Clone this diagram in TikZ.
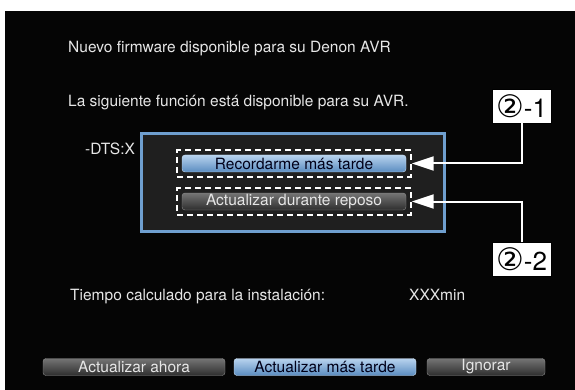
\documentclass[tikz,border=0pt]{standalone}
\usepackage{fontspec}
\setmainfont{TeX Gyre Heros}
\newfontfamily\symfont{DejaVu Sans}
\usepackage{tikz}
\usetikzlibrary{positioning, arrows.meta, fit}
\definecolor{screenBg}{HTML}{050505}
\definecolor{msgGray}{HTML}{E6E6E6}
\definecolor{panelGray}{HTML}{1F1F1F}
\definecolor{panelBlue}{HTML}{6F9FCF}
\definecolor{btnBlueTop}{HTML}{B8D3EE}
\definecolor{btnBlueBot}{HTML}{5A8CC0}
\definecolor{btnGreyTop}{HTML}{747474}
\definecolor{btnGreyBot}{HTML}{2E2E2E}
\newcommand{\circtwo}{{\symfont\fontsize{31}{31}\selectfont ②}}
\tikzset{
    msg/.style={anchor=base west, inner sep=0pt, text=msgGray, font=\fontsize{15.5}{18}\selectfont},
    panel/.style={rectangle, draw=panelBlue, line width=3pt, fill=panelGray, minimum width=303pt, minimum height=98pt},
    btnBlue/.style={rectangle, rounded corners=3pt, draw=btnBlueTop!70!white, top color=btnBlueTop, bottom color=btnBlueBot, text=black!90!blue, inner sep=0pt, minimum height=17pt, font=\fontsize{15.5}{18}\selectfont},
    btnGrey/.style={rectangle, rounded corners=3pt, draw=black!45, top color=btnGreyTop, bottom color=btnGreyBot, text=msgGray, inner sep=0pt, minimum height=17pt, font=\fontsize{15.5}{18}\selectfont},
    focus/.style={rectangle, draw=white, line width=2pt, dash pattern=on 6pt off 4pt, inner sep=4.5pt},
    callout/.style={rectangle, draw=black, fill=white, text=black, minimum width=59pt, minimum height=34pt, inner sep=0pt, font=\fontsize{26}{28}\selectfont},
    pointer/.style={-{Triangle[length=22pt, width=14pt]}, draw=white, line width=2pt}
}
\begin{document}
\begin{tikzpicture}[x=1pt, y=-1pt]
        \useasboundingbox (0,0) rectangle (575,390);
        \fill[screenBg] (5,11) rectangle (575,390);

        % Messages
        \node[msg] (Title) at (68,52.5) {Nuevo firmware disponible para su Denon AVR};
        \node[msg] (Feature) at (68,107) {La siguiente función está disponible para su AVR.};
        \node[msg] (Dts) at (85,155) {-DTS:X};

        % Panel with options
        \node[panel] (Panel) at (293,182.5) {};
        \node[btnBlue, minimum width=224pt] (BtnRemind) at (294,163.5) {Recordarme más tarde};
        \node[btnGrey, minimum width=224pt] (BtnStandby) at (294,201.5) {Actualizar durante reposo};
        \node[focus, fit=(BtnRemind)] (FocusA) {};
        \node[focus, fit=(BtnStandby)] (FocusB) {};

        % Install time
        \node[msg] (TimeLbl) at (70,300) {Tiempo calculado para la instalación:};
        \node[msg] (TimeVal) at (409,300) {XXXmin};

        % Bottom buttons
        \node[btnGrey, minimum width=182pt] (BtnNow) at (134,367) {Actualizar ahora};
        \node[btnBlue, minimum width=182pt] (BtnLater) at (325,367) {Actualizar más tarde};
        \node[btnGrey, minimum width=118pt] (BtnIgnore) at (486,367) {Ignorar};

        % Callouts
        \node[callout] (CalloutA) at (521.5,106) {\circtwo-1};
        \node[callout] (CalloutB) at (521.5,259.5) {\circtwo-2};

        % Connections
        \draw[pointer] (CalloutA.south) |- (FocusA.east);
        \draw[pointer] (CalloutB.north) |- (FocusB.east);

    \end{tikzpicture}
\end{document}
